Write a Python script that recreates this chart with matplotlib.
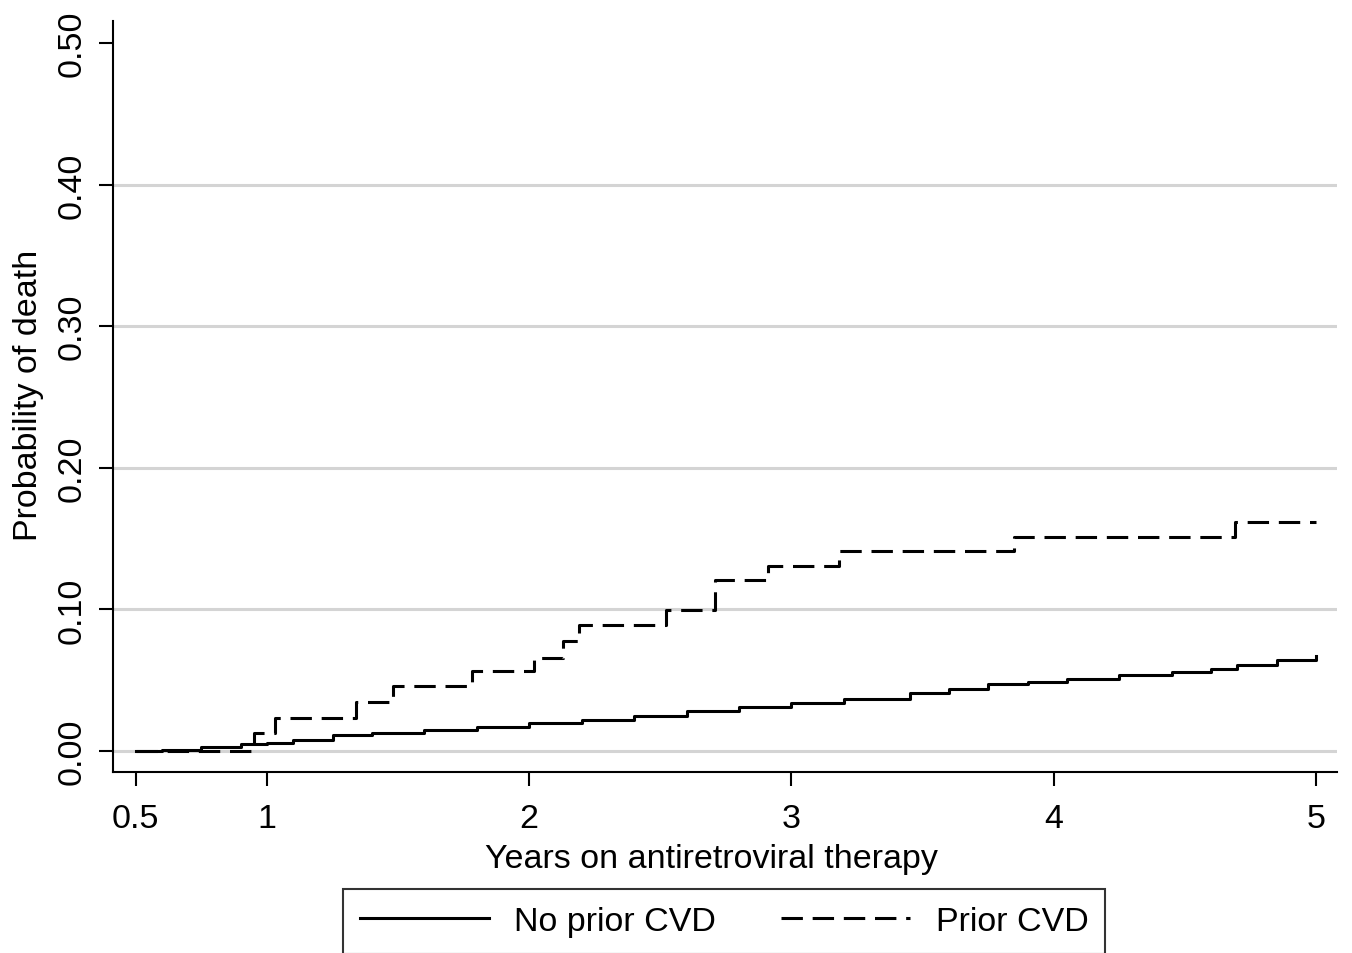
import matplotlib
matplotlib.use("Agg")
import matplotlib.pyplot as plt
import numpy as np

plt.rcParams['font.family'] = ['Liberation Sans', 'DejaVu Sans']

# Prior CVD: step function (years, probability of death)
prior_t = [0.5, 0.95, 1.03, 1.34, 1.48, 1.78, 2.02, 2.13, 2.19, 2.52, 2.71, 2.91, 3.18, 3.85, 4.69, 5.0]
prior_p = [0.0, 0.0125, 0.023, 0.0346, 0.046, 0.0565, 0.066, 0.078, 0.089, 0.0996, 0.121, 0.131, 0.141, 0.151, 0.162, 0.162]

# No prior CVD: many small steps
noprior_t = [0.5, 0.6, 0.75, 0.9, 1.0, 1.1, 1.25, 1.4, 1.6, 1.8, 2.0, 2.2, 2.4, 2.6, 2.8, 3.0,
             3.2, 3.45, 3.6, 3.75, 3.9, 4.05, 4.25, 4.45, 4.6, 4.7, 4.85, 5.0]
noprior_p = [0.0, 0.001, 0.003, 0.005, 0.006, 0.008, 0.011, 0.013, 0.015, 0.017, 0.020, 0.022, 0.025, 0.028, 0.031, 0.034,
             0.037, 0.041, 0.044, 0.047, 0.049, 0.051, 0.054, 0.056, 0.058, 0.061, 0.064, 0.067]

xticks = [0.5, 1, 2, 3, 4, 5]
xticklabels = ['0.5', '1', '2', '3', '4', '5']
yticks = [0.0, 0.1, 0.2, 0.3, 0.4, 0.5]
yticklabels = ['0.00', '0.10', '0.20', '0.30', '0.40', '0.50']
gridvals = [0.0, 0.1, 0.2, 0.3, 0.4]

fs = 24.5

fig = plt.figure(figsize=(13.52, 9.54), dpi=100)
ax = fig.add_axes([113/1352, 1-773/954, (1337-113)/1352, (773-22)/954])

for g in gridvals:
    ax.axhline(g, color='#d4d4d4', lw=2.2, zorder=0)

l1, = ax.plot(noprior_t, noprior_p, drawstyle='steps-post', color='black', lw=2.2, label='No prior CVD')
l2, = ax.plot(prior_t, prior_p, drawstyle='steps-post', color='black', lw=2.2,
              dashes=(7, 3.2), label='Prior CVD')

ax.set_xlim(0.413, 5.08)
ax.set_ylim(-0.0148, 0.5155)
ax.set_xticks(xticks)
ax.set_xticklabels(xticklabels)
ax.set_yticks(yticks)
ax.set_yticklabels(yticklabels, rotation=90, va='center')
ax.tick_params(axis='both', labelsize=fs, direction='out', width=1.5, color='black')
ax.tick_params(axis='x', length=10, pad=12)
ax.tick_params(axis='y', length=10, pad=8)

for s in ['top', 'right']:
    ax.spines[s].set_visible(False)
for s in ['left', 'bottom']:
    ax.spines[s].set_linewidth(1.5)

fig.text(711/1352, 1-860/954, 'Years on antiretroviral therapy', ha='center', va='center', fontsize=fs)
fig.text(29/1352, 1-395/954, 'Probability of death', ha='center', va='center', fontsize=fs, rotation=90)

leg = fig.legend(handles=[l1, l2], loc='upper center', bbox_to_anchor=(724/1352, 1-890/954),
                 ncol=2, fontsize=fs, frameon=True, fancybox=False, edgecolor='black',
                 handlelength=3.8, handletextpad=0.75, columnspacing=1.9, borderpad=0.5,
                 borderaxespad=0)
leg.get_frame().set_linewidth(1.5)

fig.savefig('out.png', dpi=100)
